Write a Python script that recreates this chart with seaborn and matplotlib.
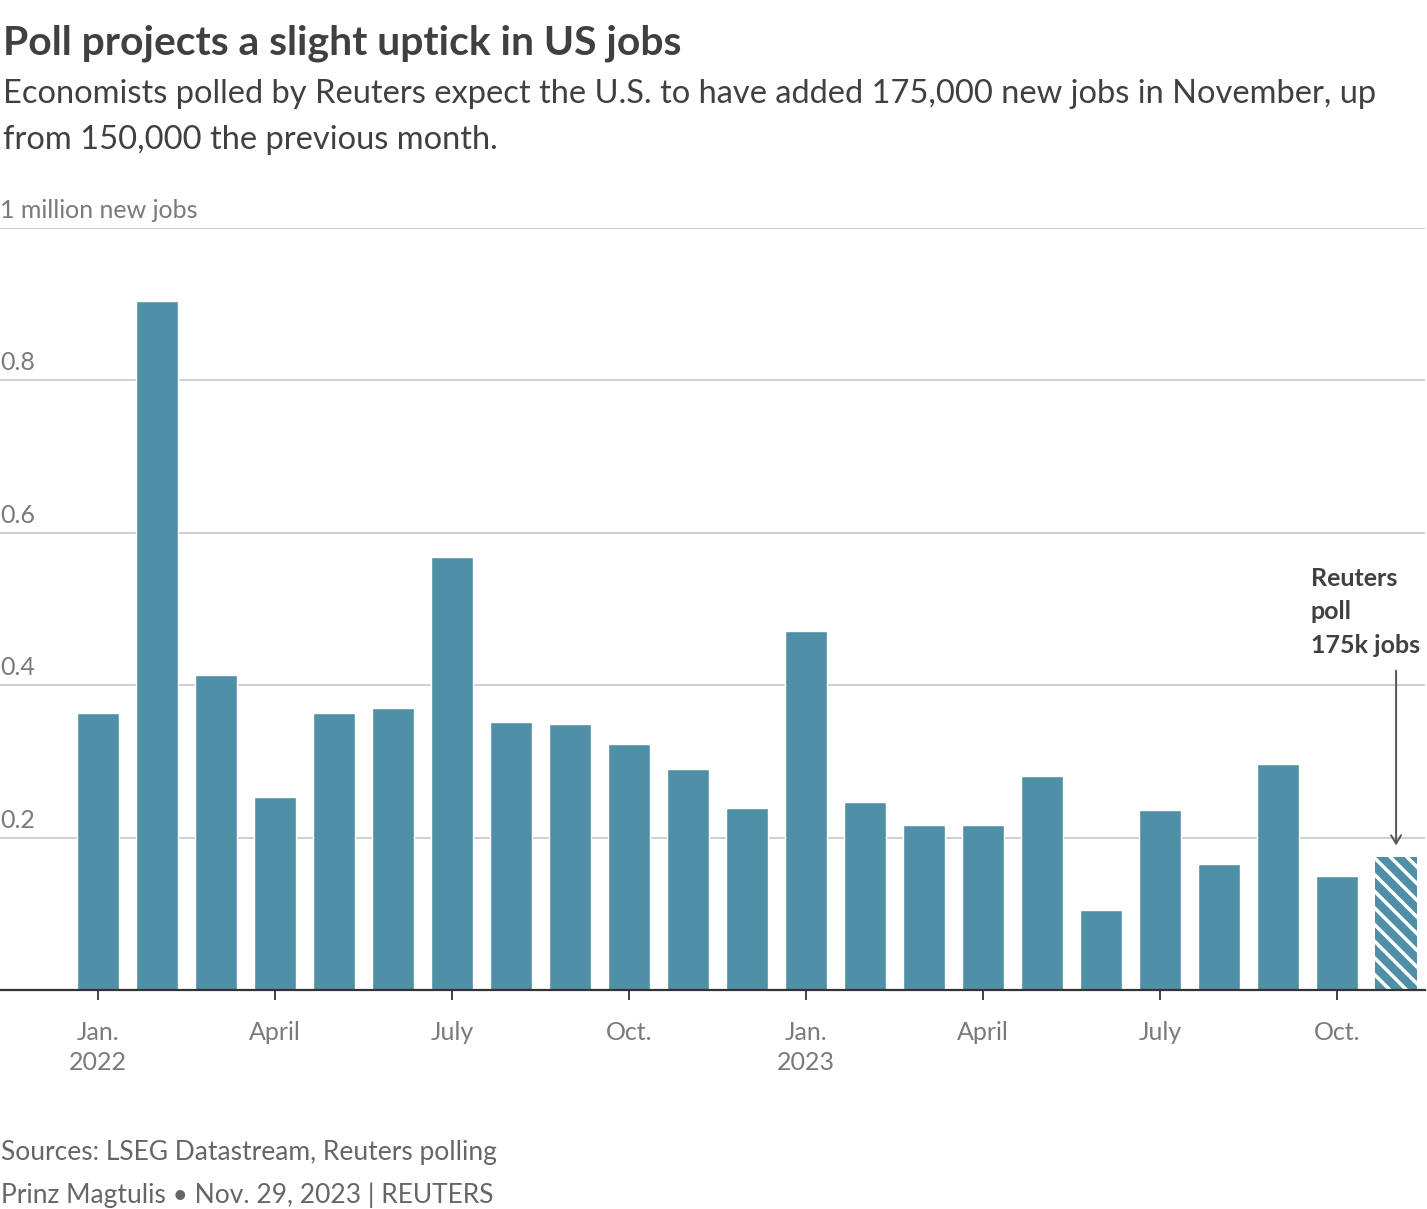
import pandas as pd
import matplotlib.pyplot as plt
import seaborn as sns

# monthly change in US nonfarm payrolls, millions (last one is the Reuters poll)
months = ['Jan 2022', 'Feb 2022', 'Mar 2022', 'Apr 2022', 'May 2022', 'Jun 2022',
          'Jul 2022', 'Aug 2022', 'Sep 2022', 'Oct 2022', 'Nov 2022', 'Dec 2022',
          'Jan 2023', 'Feb 2023', 'Mar 2023', 'Apr 2023', 'May 2023', 'Jun 2023',
          'Jul 2023', 'Aug 2023', 'Sep 2023', 'Oct 2023', 'Nov 2023']
jobs = [0.364, 0.904, 0.413, 0.253, 0.364, 0.370, 0.568, 0.352, 0.349, 0.323,
        0.290, 0.239, 0.471, 0.247, 0.217, 0.217, 0.281, 0.105, 0.236, 0.165,
        0.297, 0.150, 0.175]
xtick_pos = [0, 3, 6, 9, 12, 15, 18, 21]
xtick_labels = ['Jan.\n2022', 'April', 'July', 'Oct.', 'Jan.\n2023', 'April', 'July', 'Oct.']
ytick_vals = [0.2, 0.4, 0.6, 0.8, 1.0]
ytick_labels = ['0.2', '0.4', '0.6', '0.8', '1 million new jobs']

df = pd.DataFrame({'month': months, 'jobs': jobs})

W, H = 1427, 1209
def fy(px):
    return 1 - px / H

sns.set_theme(style="white")
plt.rcParams['font.family'] = ['Lato', 'DejaVu Sans']
plt.rcParams['hatch.color'] = 'white'
plt.rcParams['hatch.linewidth'] = 2.5

bar_color = '#4f90a7'
dark = '#404040'
grey = '#7a7a7a'

fig = plt.figure(figsize=(W / 100, H / 100), dpi=100)
ax = fig.add_axes([0, fy(990), 1425 / W, (990 - 228) / H])

sns.barplot(data=df, x='month', y='jobs', color=bar_color, width=0.71,
            saturation=1, ax=ax, zorder=3)

# poll bar is hatched
poll = ax.patches[-1]
poll.set_hatch('\\\\')
poll.set_edgecolor('white')
poll.set_linewidth(0)

ax.set_ylim(0, 1.0)
ax.set_xlim(-1.66, 22.49)
ax.set_xlabel('')
ax.set_ylabel('')

# gridlines + labels sitting on top of them
ax.set_yticks(ytick_vals)
ax.set_yticklabels([])
ax.tick_params(axis='y', length=0)
ax.grid(axis='y', color='#cccccc', linewidth=1.3, zorder=0)
for v, lab in zip(ytick_vals, ytick_labels):
    ax.annotate(lab, xy=(0, v), xycoords=('axes fraction', 'data'),
                xytext=(0, 10), textcoords='offset pixels',
                ha='left', va='baseline', fontsize=18, color=grey)

ax.set_xticks(xtick_pos)
ax.set_xticklabels(xtick_labels, fontsize=18, color=grey, linespacing=1.4)
ax.tick_params(axis='x', bottom=True, length=7, width=1.3, color='#333333', pad=15)

for s in ['top', 'right', 'left']:
    ax.spines[s].set_visible(False)
ax.spines['bottom'].set_color('#333333')
ax.spines['bottom'].set_linewidth(1.6)
ax.spines['bottom'].set_zorder(4)

# annotation for the poll
ax.annotate('', xy=(22, 0.186), xytext=(22, 0.4226),
            arrowprops=dict(arrowstyle='->,head_length=0.5,head_width=0.3',
                            color='#555555', lw=1.4))
fig.text(1311 / W, fy(567), 'Reuters\npoll\n175k jobs', ha='left', va='top',
         fontsize=18, fontweight='bold', color=dark, linespacing=1.55)

# title, subtitle and footer
fig.text(3 / W, fy(55), 'Poll projects a slight uptick in US jobs', ha='left',
         va='baseline', fontsize=29.4, fontweight='bold', color=dark)
fig.text(3 / W, fy(149), 'Economists polled by Reuters expect the U.S. to have added '
         '175,000 new jobs in November, up\nfrom 150,000 the previous month.',
         ha='left', va='baseline', fontsize=23.5, color=dark, linespacing=1.65)
fig.text(1 / W, fy(1160), 'Sources: LSEG Datastream, Reuters polling', ha='left',
         va='baseline', fontsize=19, color='#666666')
fig.text(1 / W, fy(1203), 'Prinz Magtulis \u2022 Nov. 29, 2023 | REUTERS', ha='left',
         va='baseline', fontsize=19, color='#666666')

fig.savefig('out.png', dpi=100)
